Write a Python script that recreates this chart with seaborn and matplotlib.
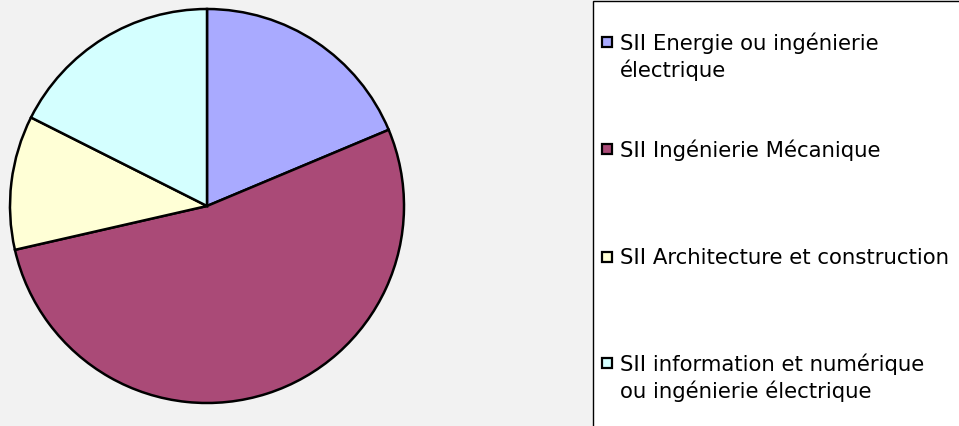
import matplotlib
matplotlib.use("Agg")
import matplotlib.pyplot as plt
from matplotlib.patches import Rectangle
import seaborn as sns

# Data
categories = [
    "SII Energie ou ingénierie\nélectrique",
    "SII Ingénierie Mécanique",
    "SII Architecture et construction",
    "SII information et numérique\nou ingénierie électrique",
]
counts = [17, 48, 10, 16]
colors = ["#A9AAFF", "#AA4A77", "#FFFFD6", "#D4FFFF"]

sns.set_style("white")
plt.rcParams["font.family"] = ["DejaVu Sans"]

W, H = 959, 427
fig = plt.figure(figsize=(W / 100, H / 100), dpi=100)
fig.patch.set_facecolor("#F2F2F2")

# pie axes: centre ~(207,207) px, radius ~197 px
ax = fig.add_axes([10 / W, 23 / H, 394 / W, 394 / H])
ax.pie(counts, colors=sns.color_palette(colors), startangle=90, counterclock=False,
       wedgeprops=dict(edgecolor="black", linewidth=1.8), radius=1.0)
ax.set_aspect("equal")
ax.set_xlim(-1.0, 1.0)
ax.set_ylim(-1.0, 1.0)
ax.axis("off")

# legend box (Excel style, marker on first text line)
fig.patches.append(Rectangle((593 / W, -0.05), 0.5, (H - 2) / H + 0.05,
                             transform=fig.transFigure, facecolor="white",
                             edgecolor="black", linewidth=1.0, zorder=0))
marker_y = [43, 149.5, 257.5, 363.5]
for label, col, y in zip(categories, colors, marker_y):
    fig.patches.append(Rectangle((602 / W, (H - y - 5) / H), 10 / W, 10 / H,
                                 transform=fig.transFigure, facecolor=col,
                                 edgecolor="black", linewidth=1.6, zorder=2))
    fig.text(620 / W, (H - y + 10) / H, label, ha="left", va="top",
             fontsize=15.3, color="black", linespacing=1.3, zorder=3)

fig.savefig("out.png", dpi=100, facecolor=fig.get_facecolor())
